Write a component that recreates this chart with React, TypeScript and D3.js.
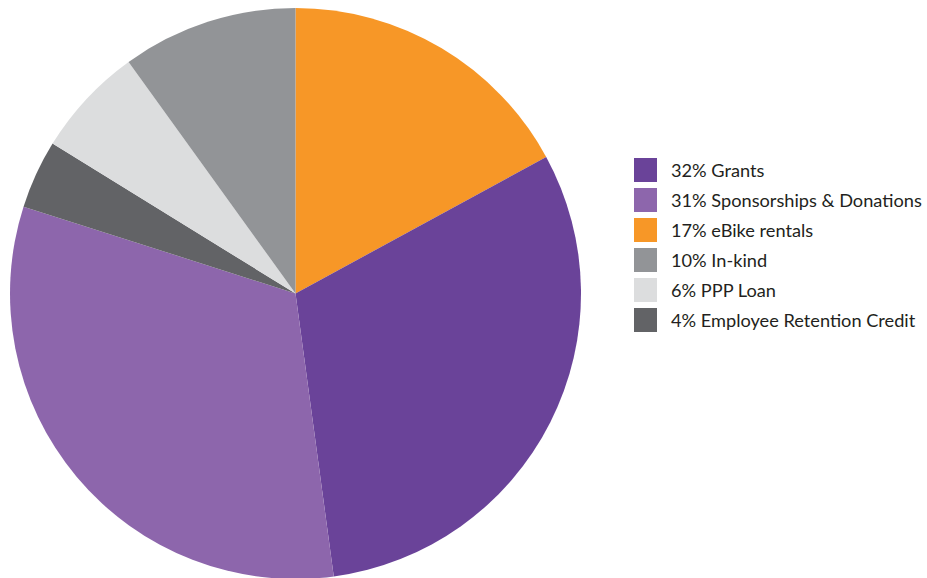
import React from "react";
import * as d3 from "d3";

const categories = ["eBike rentals", "Grants", "Sponsorships & Donations", "Employee Retention Credit", "PPP Loan", "In-kind"];
const sliceValues = [17.06, 30.8, 32.06, 3.88, 6.26, 9.94];
const sliceColors = ["#F79727", "#6A4399", "#8D66AC", "#626366", "#DCDDDE", "#929497"];

const legendLabels = ["32% Grants", "31% Sponsorships & Donations", "17% eBike rentals", "10% In-kind", "6% PPP Loan", "4% Employee Retention Credit"];
const legendColors = ["#6A4399", "#8D66AC", "#F79727", "#929497", "#DCDDDE", "#626366"];

export default function App() {
  const W = 927, H = 578;
  const cx = 295.5, cy = 293.5, r = 285.5;
  const pie = d3.pie<number>().sort(null).value((d) => d)(sliceValues);
  const arc = d3.arc<d3.PieArcDatum<number>>().innerRadius(0).outerRadius(r);
  return (
    <svg width={W} height={H} style={{ position: "absolute", left: 0, top: 0 }}>
      <g transform={`translate(${cx},${cy})`}>
        {pie.map((p, i) => (
          <path key={categories[i]} d={arc(p) || ""} fill={sliceColors[i]} />
        ))}
      </g>
      <g>
        {legendLabels.map((l, i) => (
          <g key={l} transform={`translate(634,${158 + i * 30})`}>
            <rect width={23} height={24} fill={legendColors[i]} />
            <text x={37} y={13} dy="0.35em" fontFamily="Lato, sans-serif" fontSize={18.2} fill="#231F20">
              {l}
            </text>
          </g>
        ))}
      </g>
    </svg>
  );
}
